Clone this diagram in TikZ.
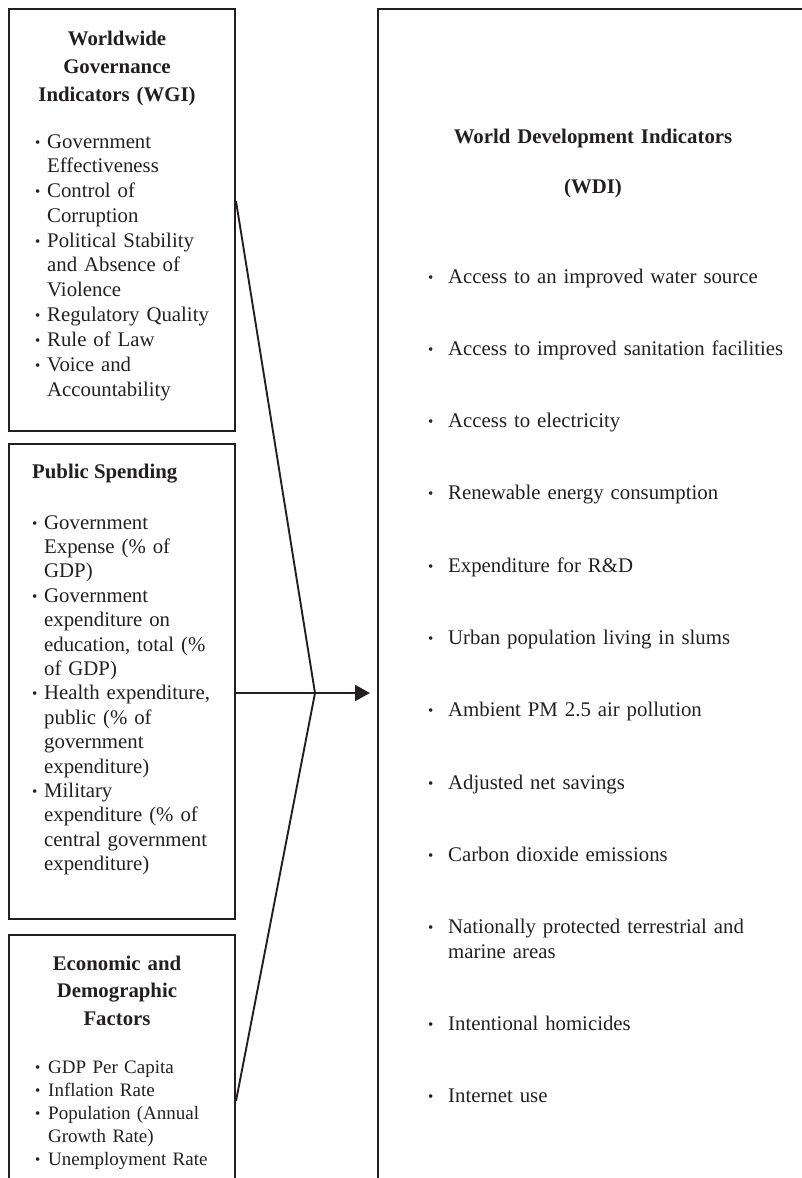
\documentclass[tikz,border=0pt]{standalone}
\usepackage{fontspec}
\setmainfont{Liberation Serif}
\usetikzlibrary{arrows.meta}

\definecolor{ink}{HTML}{231F20}

% bullet item with hanging indent (#1 = room for the bullet)
\newcommand{\bul}[1]{\makebox[#1][l]{\raisebox{1pt}{\fontsize{15}{15}\selectfont\textbullet}}}
\newcommand{\itm}[2][12pt]{\noindent\hangindent=#1\hangafter=1\bul{#1}#2\par}

\tikzset{
  panel/.style={draw=ink, line width=2pt, anchor=north west, inner sep=0pt},
  head/.style={text=ink, text width=#1, align=center, inner sep=0pt, anchor=base,
    font=\fontsize{20.8}{27.8}\selectfont\bfseries},
  list/.style={text=ink, text width=190pt, align=left, inner sep=0pt, anchor=base west,
    font=\fontsize{20.8}{24.4}\selectfont,
    execute at begin node={\setlength{\parskip}{#1}}},
  link/.style={draw=ink, line width=1.9pt},
}

\begin{document}
\begin{tikzpicture}[x=1pt, y=-1pt]
  \useasboundingbox (0,0) rectangle (802,1178);
  \clip (0,0) rectangle (802,1178);

  % the four boxes (the last two run off the page)
  \node[panel, minimum width=226pt, minimum height=422pt] (wgi) at (8,8) {};
  \node[panel, minimum width=226pt, minimum height=475pt] (pub) at (8,443) {};
  \node[panel, minimum width=226pt, minimum height=332pt] (eco) at (8,934) {};
  \node[panel, minimum width=460pt, minimum height=1258pt] (wdi) at (377,8) {};

  % governance box
  \node[head=210pt] (wgi-head) at (117,45.5) {Worldwide\\Governance\\Indicators (WGI)};
  \node[list=0.8pt] (wgi-list) at (35,148) {%
    \itm{Government\newline Effectiveness}
    \itm{Control of\newline Corruption}
    \itm{Political Stability\newline and Absence of\newline Violence}
    \itm{Regulatory Quality}
    \itm{Rule of Law}
    \itm{Voice and\newline Accountability}};

  % spending box
  \node[text=ink, inner sep=0pt, anchor=base west, font=\fontsize{20.8}{24.4}\selectfont\bfseries]
    (pub-head) at (32,478) {Public Spending};
  \node[list=0pt] (pub-list) at (32,529) {%
    \itm{Government\newline Expense (\% of\newline GDP)}
    \itm{Government\newline expenditure on\newline education, total (\%\newline of GDP)}
    \itm{Health expenditure,\newline public (\% of\newline government\newline expenditure)}
    \itm{Military\newline expenditure (\% of\newline central government\newline expenditure)}};

  % economic box
  \node[head=210pt] (eco-head) at (117,970) {Economic and\\Demographic\\Factors};
  \node[list=0.8pt, font=\fontsize{19}{22.5}\selectfont] (eco-list) at (35,1073) {%
    \itm[13pt]{GDP Per Capita}
    \itm[13pt]{Inflation Rate}
    \itm[13pt]{Population (Annual\newline Growth Rate)}
    \itm[13pt]{Unemployment Rate}};

  % development indicators box
  \node[head=400pt, font=\fontsize{20.8}{24.4}\selectfont\bfseries] (wdi-head) at (593,143)
    {World Development Indicators\\[25.6pt](WDI)};
  \node[list=47.8pt, text width=360pt, font=\fontsize{20.8}{24.5}\selectfont] (wdi-list) at (428,283) {%
    \itm[20pt]{Access to an improved water source}
    \itm[20pt]{Access to improved sanitation facilities}
    \itm[20pt]{Access to electricity}
    \itm[20pt]{Renewable energy consumption}
    \itm[20pt]{Expenditure for R\&D}
    \itm[20pt]{Urban population living in slums}
    \itm[20pt]{Ambient PM 2.5 air pollution}
    \itm[20pt]{Adjusted net savings}
    \itm[20pt]{Carbon dioxide emissions}
    \itm[20pt]{Nationally protected terrestrial and\newline marine areas}
    \itm[20pt]{Intentional homicides}
    \itm[20pt]{Internet use}};

  % the three boxes meet and point at the WDI box
  \coordinate (hub) at (315,693);
  \draw[link] ([yshift=19pt]wgi.east) -- (hub) -- (eco.east);
  \draw[link, -{Triangle[length=15pt, width=16pt]}, shorten >=7pt] (pub.east |- hub) -- (wdi.west |- hub);

\end{tikzpicture}
\end{document}
